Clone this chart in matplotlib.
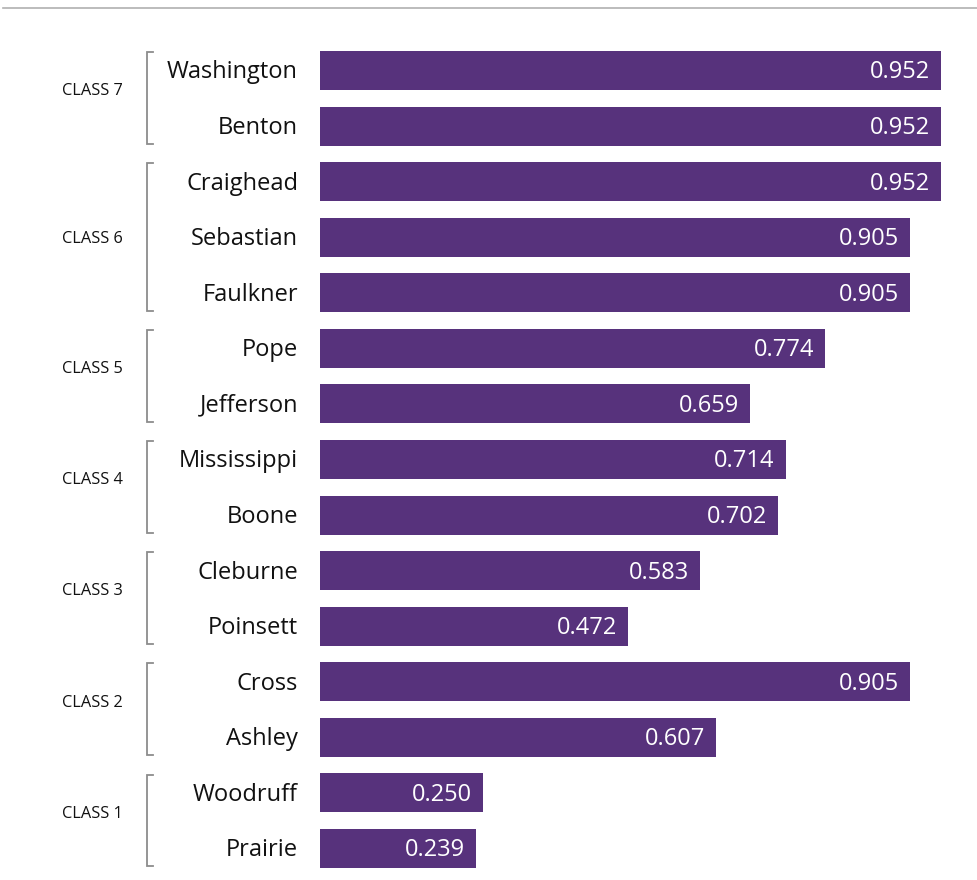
import matplotlib
matplotlib.use("Agg")
import matplotlib.pyplot as plt
from matplotlib.transforms import blended_transform_factory

plt.rcParams['font.family'] = ['Open Sans', 'DejaVu Sans']

# Counties ordered top to bottom, with their class and score
counties = ["Washington", "Benton", "Craighead", "Sebastian", "Faulkner",
            "Pope", "Jefferson", "Mississippi", "Boone", "Cleburne",
            "Poinsett", "Cross", "Ashley", "Woodruff", "Prairie"]
scores = [0.952, 0.952, 0.952, 0.905, 0.905,
          0.774, 0.659, 0.714, 0.702, 0.583,
          0.472, 0.905, 0.607, 0.250, 0.239]
classes = ["CLASS 7", "CLASS 7", "CLASS 6", "CLASS 6", "CLASS 6",
           "CLASS 5", "CLASS 5", "CLASS 4", "CLASS 4", "CLASS 3",
           "CLASS 3", "CLASS 2", "CLASS 2", "CLASS 1", "CLASS 1"]

BAR = "#57327c"
GREY = "#8c8c8c"

W, H = 978, 880
fig = plt.figure(figsize=(W / 100, H / 100), dpi=100)

# Axes occupies the bar region: x from pixel 320 to the right edge
x0 = 320
ax = fig.add_axes([x0 / W, 0, 1 - x0 / W, 1])
px_per_unit = 652.3
ax.set_xlim(0, (W - x0) / px_per_unit)
step = 55.57
first = 70.5
ax.set_ylim((H - first) / step, -first / step)
ax.axis("off")

pos = list(range(len(counties)))
ax.barh(pos, scores, height=0.70, color=BAR, left=0)

ax_w = W - x0
def fx(px):
    return (px - x0) / ax_w

tr = blended_transform_factory(ax.transAxes, ax.transData)
dy = 0.035  # small nudge so glyphs sit visually centred on the bars

for i, (name, s) in enumerate(zip(counties, scores)):
    ax.text(fx(298), i + dy, name, transform=tr, ha="right", va="center",
            fontsize=17, color="#111111", clip_on=False)
    ax.text(s - 11 / px_per_unit, i + dy, f"{s:.3f}", ha="right", va="center",
            fontsize=17, color="white")

# Class brackets and labels
groups = []
for i, c in enumerate(classes):
    if groups and groups[-1][0] == c:
        groups[-1][1].append(i)
    else:
        groups.append((c, [i]))

for c, idx in groups:
    top = idx[0] - 0.33
    bot = idx[-1] + 0.32
    xs = [fx(153), fx(147), fx(147), fx(153)]
    ys = [top, top, bot, bot]
    ax.plot(xs, ys, transform=tr, color=GREY, lw=1.3, clip_on=False,
            solid_joinstyle="miter")
    mid = (idx[0] + idx[-1]) / 2
    if len(idx) % 2 == 0:
        mid -= 0.16
    ax.text(fx(62), mid + dy, c, transform=tr, ha="left", va="center",
            fontsize=11.8, color="#111111", clip_on=False)

# Thin rule across the top
fig.add_artist(plt.Line2D([3 / W, 1], [1 - 8 / H, 1 - 8 / H],
                          transform=fig.transFigure, color="#b0b0b0", lw=1.2))

fig.savefig("out.png", dpi=100)
